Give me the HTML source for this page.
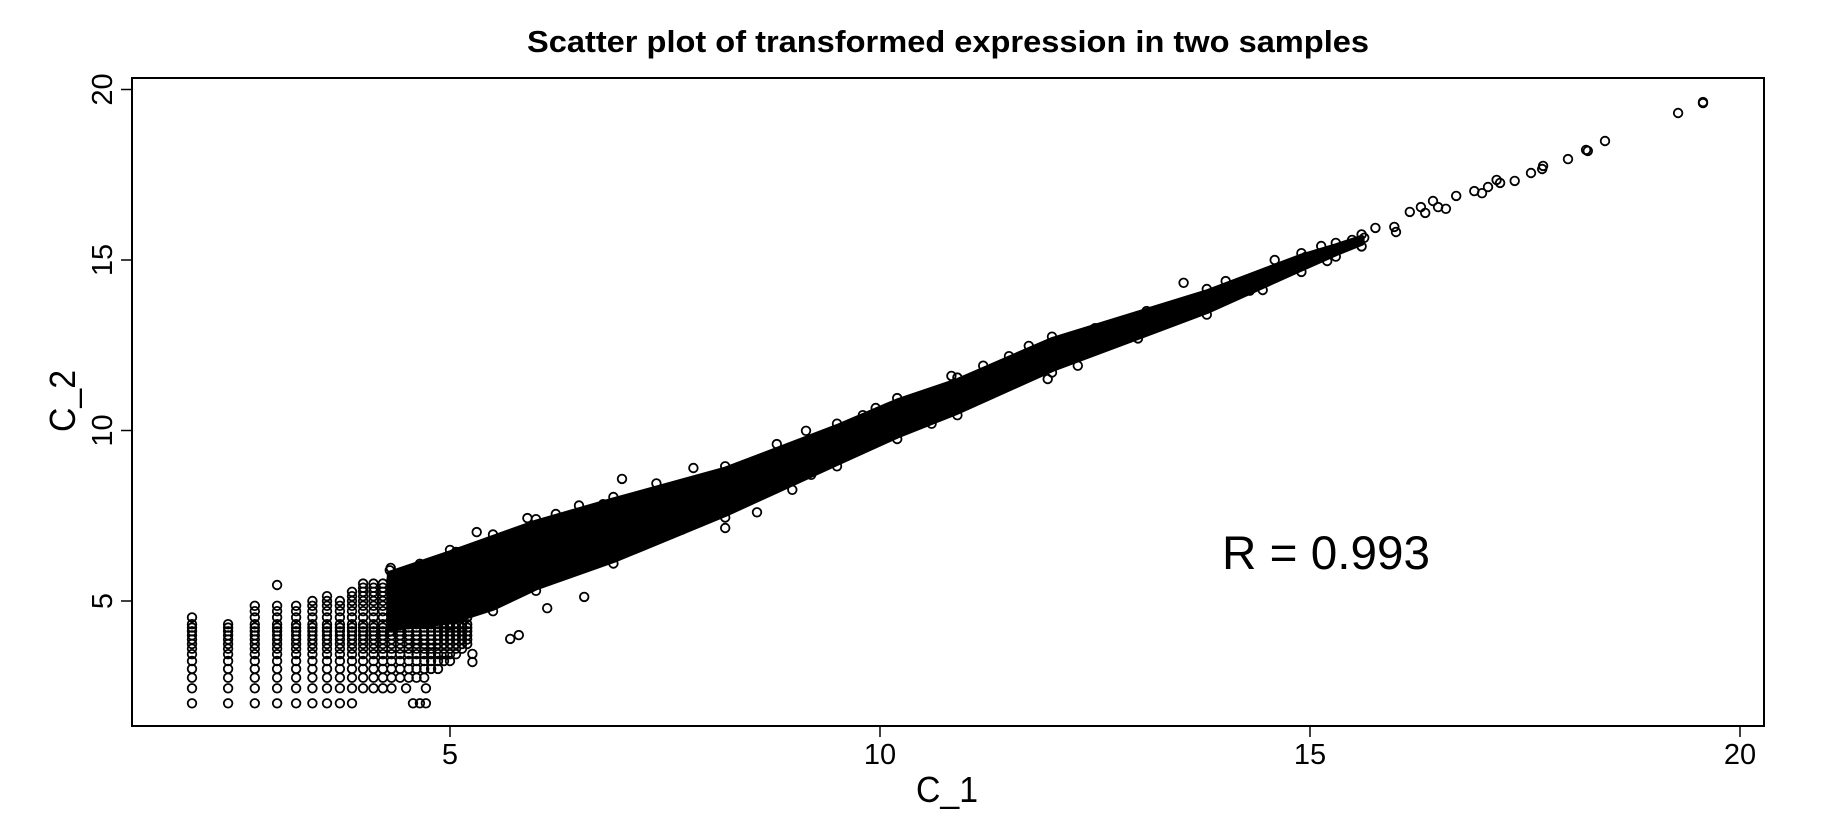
<!DOCTYPE html>
<html><head><meta charset="utf-8"><style>
html,body{margin:0;padding:0;background:#fff;}
svg{display:block;font-family:"Liberation Sans",sans-serif;}
</style></head><body>
<svg id="chart" width="1822" height="830" viewBox="0 0 1822 830" xmlns="http://www.w3.org/2000/svg">
<text x="948" y="52" font-size="31" font-weight="bold" text-anchor="middle" textLength="842" lengthAdjust="spacingAndGlyphs">Scatter plot of transformed expression in two samples</text>
<rect x="132" y="78" width="1632" height="648" fill="none" stroke="#000" stroke-width="2"/>
<g id="xaxis"></g>
<g id="yaxis"></g>
<g id="marks"></g>
<text x="947" y="802" font-size="36" text-anchor="middle" textLength="62" lengthAdjust="spacingAndGlyphs">C_1</text>
<text transform="translate(75,401) rotate(-90)" font-size="36" text-anchor="middle" textLength="62" lengthAdjust="spacingAndGlyphs">C_2</text>
<text x="1222" y="569" font-size="47" textLength="208" lengthAdjust="spacingAndGlyphs">R = 0.993</text>
</svg>
<script>
const xTicks = [5, 10, 15, 20];
const yTicks = [5, 10, 15, 20];
const gridLevels = [2.0, 2.44, 2.75, 3.01, 3.24, 3.44, 3.6, 3.74, 3.87, 3.99, 4.11, 4.22, 4.32, 4.42, 4.52, 4.61, 4.7, 4.78, 4.86, 4.93, 5.0, 5.07, 5.14, 5.2, 5.27, 5.33, 5.39, 5.45, 5.51, 5.57, 5.63, 5.69, 5.75, 5.8, 5.86, 5.92, 5.97, 6.03, 6.08, 6.14, 6.2, 6.26, 6.32, 6.38, 6.44, 6.5];
const colX = [2.0, 2.42, 2.73, 2.99, 3.21, 3.40, 3.57, 3.72, 3.86, 3.99, 4.11, 4.22, 4.32, 4.42, 4.52, 4.61, 4.70, 4.78, 4.86, 4.93, 5.0, 5.07, 5.14, 5.2];
const colBottom = [2.0, 2.0, 2.0, 2.0, 2.0, 2.0, 2.0, 2.0, 2.0, 2.44, 2.44, 2.44, 2.44, 2.75, 2.75, 2.75, 2.75, 3.01, 3.01, 3.24, 3.24, 3.44, 3.6, 3.74];
const colTop = [4.65, 4.45, 4.95, 4.95, 4.9, 5.1, 5.25, 5.1, 5.35, 5.6, 5.5, 5.6, 5.7, 5.8, 5.9, 6.0, 6.0, 6.1, 6.2, 6.3, 6.4, 6.5, 6.5, 6.6];
const bandX = [4.3, 5.0, 5.5, 6.0, 6.9, 8.2, 9.5, 10.2, 10.9, 12.0, 13.8, 14.9, 15.3, 15.6];
const bandHigh = [5.8, 6.4, 6.85, 7.3, 7.95, 8.85, 10.1, 10.85, 11.45, 12.65, 14.05, 15.1, 15.4, 15.65];
const bandLow = [4.2, 4.4, 4.8, 5.4, 6.2, 7.55, 9.05, 9.85, 10.55, 11.8, 13.5, 14.75, 15.2, 15.5];
const extraX = [4.57, 4.65, 4.72, 4.49, 4.72, 5.31, 5.90, 6.23, 6.78, 7.0, 7.83, 6.56, 6.13, 5.80, 5.70, 5.26, 5.26, 8.2, 8.57, 8.98, 9.95, 9.14, 5.12, 4.65, 4.31, 2.99, 13.53, 14.02, 14.45, 14.59, 15.13, 15.2, 15.76, 15.98, 16.0, 16.16, 16.29, 16.43, 16.34, 16.49, 16.58, 16.7, 16.91, 17.0, 17.07, 17.17, 11.73, 11.5, 10.83, 11.95, 14.95, 15.36, 15.49, 15.63, 17.21, 17.38, 17.57, 17.70, 17.71, 18.0, 18.21, 18.23, 18.43, 19.28, 19.57, 19.57, 6.5, 7.4, 8.8, 9.8, 11.2, 12.5, 13.1, 6.9, 7.7, 9.2, 10.6, 12.3, 13.0, 14.3];
const extraY = [2.0, 2.0, 2.0, 2.44, 2.44, 7.02, 7.43, 7.55, 7.84, 8.58, 8.9, 5.12, 4.79, 4.0, 3.89, 3.45, 3.21, 7.14, 7.6, 8.26, 10.66, 9.99, 6.44, 6.09, 5.97, 5.47, 14.33, 14.38, 14.12, 15.0, 15.41, 14.97, 15.94, 15.97, 15.82, 16.41, 16.55, 16.73, 16.38, 16.55, 16.5, 16.88, 17.02, 16.96, 17.14, 17.35, 12.48, 12.18, 11.6, 11.51, 15.09, 15.38, 15.59, 15.65, 17.26, 17.32, 17.55, 17.67, 17.76, 17.96, 18.23, 18.2, 18.49, 19.31, 19.63, 19.6, 7.8, 8.45, 9.6, 10.45, 11.9, 13.0, 13.5, 6.3, 7.1, 8.7, 10.2, 11.9, 12.7, 14.1];

const NS = 'http://www.w3.org/2000/svg';
const xs = v => 450 + (v - 5) * 86;
const ys = v => 601 - (v - 5) * 34.1;
function mk(tag, parent) { const e = document.createElementNS(NS, tag); parent.appendChild(e); return e; }

const xa = document.getElementById('xaxis');
xTicks.forEach(t => {
  const l = mk('line', xa);
  
  
  l.setAttribute('x1', xs(t)); l.setAttribute('x2', xs(t)); l.setAttribute('y1', 726); l.setAttribute('y2', 737);
  l.setAttribute('stroke', '#000'); l.setAttribute('stroke-width', '1.5');
  const tx = mk('text', xa);
  
  
  tx.setAttribute('x', xs(t)); tx.setAttribute('y', 764); tx.setAttribute('font-size', '29'); tx.setAttribute('text-anchor', 'middle');
  tx.textContent = t;
});
const ya = document.getElementById('yaxis');
yTicks.forEach(t => {
  const l = mk('line', ya);
  
  
  l.setAttribute('x1', 121); l.setAttribute('x2', 132); l.setAttribute('y1', ys(t)); l.setAttribute('y2', ys(t));
  l.setAttribute('stroke', '#000'); l.setAttribute('stroke-width', '1.5');
  const tx = mk('text', ya);
  
  
  tx.setAttribute('transform', 'translate(112,' + ys(t) + ') rotate(-90)');
  tx.setAttribute('font-size', '29'); tx.setAttribute('text-anchor', 'middle');
  tx.textContent = t;
});

const g = document.getElementById('marks');
function circ(x, y) {
  const c = mk('circle', g);
  
  
  c.setAttribute('cx', xs(x).toFixed(1)); c.setAttribute('cy', ys(y).toFixed(1)); c.setAttribute('r', 4.3);
  c.setAttribute('fill', 'none'); c.setAttribute('stroke', '#000'); c.setAttribute('stroke-width', '1.8');
}
let pts = [];
bandX.forEach((x, i) => pts.push(xs(x).toFixed(1) + ',' + ys(bandHigh[i]).toFixed(1)));
for (let i = bandX.length - 1; i >= 0; i--) pts.push(xs(bandX[i]).toFixed(1) + ',' + ys(bandLow[i]).toFixed(1));
const band = mk('polygon', g);


band.setAttribute('points', pts.join(' '));
band.setAttribute('fill', '#000'); band.setAttribute('stroke', '#000'); band.setAttribute('stroke-width', '6'); band.setAttribute('stroke-linejoin', 'round');
bandX.forEach((x, i) => { circ(x, bandHigh[i] + 0.1); circ(x, bandLow[i] - 0.1); });
colX.forEach((x, i) => {
  gridLevels.forEach((lv, j) => { if (lv >= colBottom[i] - 0.01 && lv <= colTop[i] + 0.01 && (lv < 4.4 || j % 2 === 0)) circ(x, lv); });
});
extraX.forEach((x, i) => circ(x, extraY[i]));
</script>
</body></html>
